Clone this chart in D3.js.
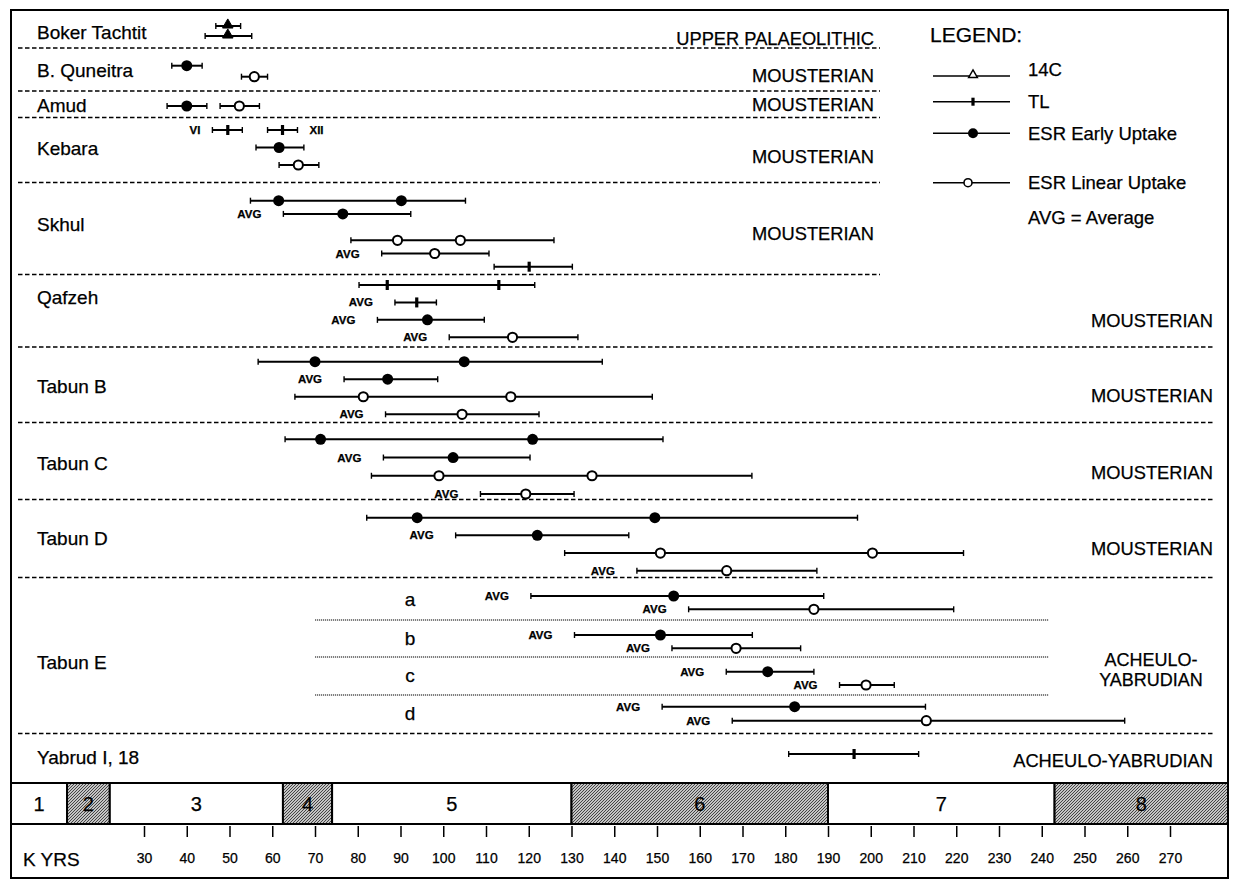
<!DOCTYPE html>
<html>
<head>
<meta charset="utf-8">
<script src="https://cdn.jsdelivr.net/npm/d3@7"></script>
<style>
    body { margin: 0; background: #fff; }
    text { font-family: "Liberation Sans", Arial, sans-serif; fill: #000; stroke: #000; stroke-width: 0.25; }
</style>
</head>
<body>
<script>
// ---- data ----
const siteNames = ["Boker Tachtit", "B. Quneitra", "Amud", "Kebara", "Skhul", "Qafzeh",
    "Tabun B", "Tabun C", "Tabun D", "Tabun E", "Yabrud I, 18"];
const siteCultures = ["UPPER PALAEOLITHIC", "MOUSTERIAN", "MOUSTERIAN", "MOUSTERIAN", "MOUSTERIAN",
    "MOUSTERIAN", "MOUSTERIAN", "MOUSTERIAN", "MOUSTERIAN", "ACHEULO-|YABRUDIAN", "ACHEULO-YABRUDIAN"];
const tabunELayers = ["a", "b", "c", "d"];

const stageNames = ["1", "2", "3", "4", "5", "6", "7", "8"];
const stageEdges = [12, 22, 62.5, 74, 130, 190, 243];   // kyr boundaries between stages
const stageShaded = [false, true, false, true, false, true, false, true];

const tickValues = d3.range(30, 271, 10);

// dates in kyr: lo/hi = range of the bar, marks = dates drawn on it
const dateRows = [
    { site: 0, lane: 0, type: "C14", lo: 46.8, hi: 52.6, marks: [49.6] },
    { site: 0, lane: 1, type: "C14", lo: 44.3, hi: 55.2, marks: [49.6] },
    { site: 1, lane: 0, type: "EU", lo: 36.5, hi: 43.6, marks: [40.0] },
    { site: 1, lane: 1, type: "LU", lo: 52.8, hi: 58.9, marks: [55.8] },
    { site: 2, lane: 0, type: "EU", lo: 35.4, hi: 44.7, marks: [40.0] },
    { site: 2, lane: 0, type: "LU", lo: 47.8, hi: 57.0, marks: [52.3] },
    { site: 3, lane: 0, type: "TL", lo: 46.0, hi: 53.0, marks: [49.6], tag: "VI", tagSide: "left" },
    { site: 3, lane: 0, type: "TL", lo: 58.9, hi: 65.9, marks: [62.4], tag: "XII", tagSide: "right" },
    { site: 3, lane: 1, type: "EU", lo: 56.2, hi: 67.4, marks: [61.6] },
    { site: 3, lane: 2, type: "LU", lo: 61.6, hi: 70.9, marks: [66.1] },
    { site: 4, lane: 0, type: "EU", lo: 54.9, hi: 105.2, marks: [61.5, 90.2] },
    { site: 4, lane: 1, type: "EU", lo: 62.6, hi: 92.4, marks: [76.5], avg: true },
    { site: 4, lane: 3, type: "LU", lo: 78.4, hi: 125.9, marks: [89.3, 104.0] },
    { site: 4, lane: 4, type: "LU", lo: 85.6, hi: 110.7, marks: [98.0], avg: true },
    { site: 4, lane: 5, type: "TL", lo: 111.9, hi: 130.2, marks: [120.1] },
    { site: 5, lane: 0, type: "TL", lo: 80.3, hi: 121.4, marks: [86.9, 113.0] },
    { site: 5, lane: 1, type: "TL", lo: 88.7, hi: 98.4, marks: [93.8], avg: true },
    { site: 5, lane: 2, type: "EU", lo: 84.6, hi: 109.6, marks: [96.3], avg: true },
    { site: 5, lane: 3, type: "LU", lo: 101.4, hi: 131.5, marks: [116.2], avg: true },
    { site: 6, lane: 0, type: "EU", lo: 56.7, hi: 137.2, marks: [70.0, 104.9] },
    { site: 6, lane: 1, type: "EU", lo: 76.8, hi: 98.7, marks: [87.0], avg: true },
    { site: 6, lane: 2, type: "LU", lo: 65.3, hi: 148.9, marks: [81.3, 115.8] },
    { site: 6, lane: 3, type: "LU", lo: 86.5, hi: 122.4, marks: [104.4], avg: true },
    { site: 7, lane: 0, type: "EU", lo: 63.0, hi: 151.4, marks: [71.3, 120.9] },
    { site: 7, lane: 1, type: "EU", lo: 86.0, hi: 120.3, marks: [102.3], avg: true },
    { site: 7, lane: 2, type: "LU", lo: 83.2, hi: 172.2, marks: [99.0, 134.8] },
    { site: 7, lane: 3, type: "LU", lo: 108.7, hi: 130.6, marks: [119.3], avg: true },
    { site: 8, lane: 0, type: "EU", lo: 82.1, hi: 196.9, marks: [93.9, 149.5] },
    { site: 8, lane: 1, type: "EU", lo: 102.9, hi: 143.4, marks: [122.0], avg: true },
    { site: 8, lane: 2, type: "LU", lo: 128.4, hi: 221.7, marks: [150.8, 200.4] },
    { site: 8, lane: 3, type: "LU", lo: 145.3, hi: 187.4, marks: [166.3], avg: true },
    { site: 9, layer: 0, lane: 0, type: "EU", lo: 120.5, hi: 189.0, marks: [153.9], avg: true },
    { site: 9, layer: 0, lane: 1, type: "LU", lo: 157.4, hi: 219.4, marks: [186.7], avg: true },
    { site: 9, layer: 1, lane: 0, type: "EU", lo: 130.7, hi: 172.3, marks: [150.8], avg: true },
    { site: 9, layer: 1, lane: 1, type: "LU", lo: 153.5, hi: 183.6, marks: [168.5], avg: true },
    { site: 9, layer: 2, lane: 0, type: "EU", lo: 166.2, hi: 186.7, marks: [175.9], avg: true },
    { site: 9, layer: 2, lane: 1, type: "LU", lo: 192.7, hi: 205.5, marks: [198.9], avg: true },
    { site: 9, layer: 3, lane: 0, type: "EU", lo: 151.2, hi: 212.8, marks: [182.2], avg: true },
    { site: 9, layer: 3, lane: 1, type: "LU", lo: 167.6, hi: 259.4, marks: [213.0], avg: true },
    { site: 10, lane: 0, type: "TL", lo: 180.8, hi: 211.2, marks: [196.1] }
];

const legendItems = [["C14", "14C"], ["TL", "TL"], ["EU", "ESR Early Uptake"], ["LU", "ESR Linear Uptake"]];

// ---- layout (pixels) ----
const W = 1233, H = 881;
const frame = { left: 11, top: 10, right: 1228, bottom: 878 };
const stageTop = 783, stageBottom = 824;
// per site: bottom divider, first/last lane y, lane slots, label y, culture y, culture right edge
const bandLayout = [
    { bottom: 48, lanes: [26, 36], slots: 2, labelY: 32, cultY: 38, cultX: 874, lineEnd: 880 },
    { bottom: 91, lanes: [65.7, 76.7], slots: 2, labelY: 70, cultY: 75, cultX: 874, lineEnd: 880 },
    { bottom: 117.5, lanes: [106, 106], slots: 1, labelY: 105, cultY: 104, cultX: 874, lineEnd: 880 },
    { bottom: 182.5, lanes: [130, 165], slots: 3, labelY: 148, cultY: 156, cultX: 874, lineEnd: 880 },
    { bottom: 274.5, lanes: [200.7, 266.7], slots: 6, labelY: 224, cultY: 233, cultX: 874, lineEnd: 880 },
    { bottom: 347, lanes: [285, 337.3], slots: 4, labelY: 297, cultY: 320, cultX: 1213, lineEnd: 1215 },
    { bottom: 422.5, lanes: [361.7, 414.3], slots: 4, labelY: 386, cultY: 395, cultX: 1213, lineEnd: 1215 },
    { bottom: 499.5, lanes: [439.3, 494], slots: 4, labelY: 463, cultY: 472, cultX: 1213, lineEnd: 1215 },
    { bottom: 577.5, lanes: [517.7, 570.7], slots: 4, labelY: 538, cultY: 548, cultX: 1213, lineEnd: 1215 },
    { bottom: 733.5, labelY: 662, cultY: 660, cultX: 1151, lineEnd: 1215 },
    { bottom: null, lanes: [754, 754], slots: 1, labelY: 757, cultY: 760, cultX: 1213 }
];
// Tabun E sub-layers: top/bottom of each and its two lanes
const layerLayout = [
    { top: 579, bottom: 620, lanes: [596, 609.3] },
    { top: 620, bottom: 657, lanes: [635, 648.3] },
    { top: 657, bottom: 695, lanes: [671.7, 685] },
    { top: 695, bottom: 733, lanes: [706.7, 720.7] }
];

const x = d3.scaleLinear().domain([30, 270]).range([144, 1170]);

const svg = d3.select("body").append("svg")
    .attr("width", W)
    .attr("height", H);

const defs = svg.append("defs");
const pat = defs.append("pattern")
    .attr("id", "stipple")
    .attr("patternUnits", "userSpaceOnUse")
    .attr("width", 3).attr("height", 3);
pat.append("rect").attr("width", 3).attr("height", 3).attr("fill", "#c4c4c4");
pat.append("path").attr("d", "M0,3 L3,0").attr("stroke", "#444").attr("stroke-width", 1);

function laneY(d) {
    if (d.site === 9) {
        const L = layerLayout[d.layer];
        return d3.scaleLinear().domain([0, 1]).range(L.lanes)(d.lane);
    }
    const b = bandLayout[d.site];
    if (b.slots === 1) return b.lanes[0];
    return d3.scaleLinear().domain([0, b.slots - 1]).range(b.lanes)(d.lane);
}

function drawMarker(g, type, cx, cy, small) {
    if (type === "EU") {
        g.append("circle").attr("cx", cx).attr("cy", cy).attr("r", small ? 5 : 5.5).attr("fill", "#000");
    } else if (type === "LU") {
        g.append("circle").attr("cx", cx).attr("cy", cy).attr("r", small ? 4 : 4.6)
            .attr("fill", "#fff").attr("stroke", "#000").attr("stroke-width", small ? 1.6 : 2);
    } else if (type === "TL") {
        g.append("rect").attr("x", cx - 1.6).attr("y", cy - (small ? 4 : 5))
            .attr("width", 3.2).attr("height", small ? 8 : 10).attr("fill", "#000");
    } else if (type === "C14") {
        g.append("path")
            .attr("d", d3.symbol(d3.symbolTriangle, small ? 34 : 48)())
            .attr("transform", `translate(${cx},${cy - 1})`)
            .attr("fill", small ? "#fff" : "#000")
            .attr("stroke", "#000").attr("stroke-width", small ? 1.4 : 1);
    }
}

// frame
svg.append("rect")
    .attr("x", frame.left).attr("y", frame.top)
    .attr("width", frame.right - frame.left).attr("height", frame.bottom - frame.top)
    .attr("fill", "none").attr("stroke", "#000").attr("stroke-width", 2);

// site dividers
bandLayout.forEach((b, i) => {
    if (b.bottom === null) return;
    svg.append("line")
        .attr("x1", 18).attr("x2", b.lineEnd)
        .attr("y1", b.bottom).attr("y2", b.bottom)
        .attr("stroke", "#000").attr("stroke-width", 1.4)
        .attr("stroke-dasharray", "4.5,2.5");
});
// Tabun E dotted sub-dividers
layerLayout.slice(0, 3).forEach(L => {
    svg.append("line")
        .attr("x1", x(70)).attr("x2", x(241.5))
        .attr("y1", L.bottom).attr("y2", L.bottom)
        .attr("stroke", "#000").attr("stroke-width", 1.2)
        .attr("stroke-dasharray", "1.2,0.8");
});

// site names and culture labels
svg.append("g").selectAll("text")
    .data(siteNames)
    .join("text")
    .attr("x", 37)
    .attr("y", (d, i) => bandLayout[i].labelY + 6.5)
    .attr("font-size", 19)
    .text(d => d);

siteCultures.forEach((c, i) => {
    const b = bandLayout[i];
    const parts = c.split("|");
    if (parts.length > 1) {
        parts.forEach((p, j) => {
            svg.append("text")
                .attr("x", b.cultX).attr("y", b.cultY + 6 + j * 20)
                .attr("text-anchor", "middle").attr("font-size", 18)
                .text(p);
        });
    } else {
        svg.append("text")
            .attr("x", b.cultX).attr("y", b.cultY + 6.5)
            .attr("text-anchor", "end").attr("font-size", 18.3)
            .text(c);
    }
});

// Tabun E layer letters
svg.append("g").selectAll("text")
    .data(tabunELayers)
    .join("text")
    .attr("x", 410)
    .attr("y", (d, i) => (layerLayout[i].top + layerLayout[i].bottom) / 2 + 6)
    .attr("text-anchor", "middle")
    .attr("font-size", 19)
    .text(d => d);

// date bars
const marks = svg.append("g").attr("id", "dates");
dateRows.forEach(d => {
    const y = laneY(d);
    const g = marks.append("g");
    g.append("line")
        .attr("x1", x(d.lo)).attr("x2", x(d.hi))
        .attr("y1", y).attr("y2", y)
        .attr("stroke", "#000").attr("stroke-width", 2);
    [d.lo, d.hi].forEach(v => {
        g.append("line")
            .attr("x1", x(v)).attr("x2", x(v))
            .attr("y1", y - 3).attr("y2", y + 3)
            .attr("stroke", "#000").attr("stroke-width", 1.4);
    });
    d.marks.forEach(m => drawMarker(g, d.type, x(m), y, false));
    if (d.avg) {
        g.append("text")
            .attr("x", x(d.lo) - 22).attr("y", y + 4)
            .attr("text-anchor", "end")
            .attr("font-size", 11.5).attr("font-weight", "bold")
            .text("AVG");
    }
    if (d.tag) {
        const left = d.tagSide === "left";
        g.append("text")
            .attr("x", left ? x(d.lo) - 12 : x(d.hi) + 12).attr("y", y + 4)
            .attr("text-anchor", left ? "end" : "start")
            .attr("font-size", 11.5).attr("font-weight", "bold")
            .text(d.tag);
    }
});

// legend
const legend = svg.append("g").attr("id", "legend");
legend.append("text").attr("x", 930).attr("y", 42).attr("font-size", 21).text("LEGEND:");
const legendYs = { C14: 76, TL: 101.7, EU: 133.3, LU: 182.7 };
legendItems.forEach(([type, label]) => {
    const y = legendYs[type];
    legend.append("line").attr("x1", 933).attr("x2", 1010).attr("y1", y).attr("y2", y)
        .attr("stroke", "#000").attr("stroke-width", 1.6);
    drawMarker(legend, type, type === "LU" ? 968 : 973, y, true);
    legend.append("text").attr("x", 1028).attr("y", y + (type === "C14" ? 0 : 6.5))
        .attr("font-size", 18.5).text(label);
});
legend.append("text").attr("x", 1028).attr("y", 224).attr("font-size", 18.5).text("AVG = Average");

// isotope stages
const edgesPx = [frame.left].concat(stageEdges.map(x), [frame.right]);
const stages = svg.append("g").attr("id", "stages");
stages.selectAll("rect")
    .data(stageNames)
    .join("rect")
    .attr("x", (d, i) => edgesPx[i])
    .attr("y", stageTop)
    .attr("width", (d, i) => edgesPx[i + 1] - edgesPx[i])
    .attr("height", stageBottom - stageTop)
    .attr("fill", (d, i) => stageShaded[i] ? "url(#stipple)" : "#fff")
    .attr("stroke", "#000").attr("stroke-width", 2);
stages.selectAll("text")
    .data(stageNames)
    .join("text")
    .attr("x", (d, i) => (edgesPx[i] + edgesPx[i + 1]) / 2)
    .attr("y", (stageTop + stageBottom) / 2 + 7)
    .attr("text-anchor", "middle")
    .attr("font-size", 20)
    .text(d => d);

// time axis
const axis = svg.append("g")
    .attr("transform", `translate(0,${stageBottom + 2})`)
    .call(d3.axisBottom(x).tickValues(tickValues).tickSize(11).tickPadding(16).tickFormat(d3.format("d")));
axis.select(".domain").remove();
axis.selectAll(".tick line").attr("stroke-width", 1.5);
axis.selectAll(".tick text")
    .style("font-family", '"Liberation Sans", Arial, sans-serif')
    .attr("stroke", "#000").attr("stroke-width", 0.25)
    .attr("font-size", 14);

svg.append("text").attr("x", 23).attr("y", 866).attr("font-size", 19).text("K YRS");
</script>
</body>
</html>
